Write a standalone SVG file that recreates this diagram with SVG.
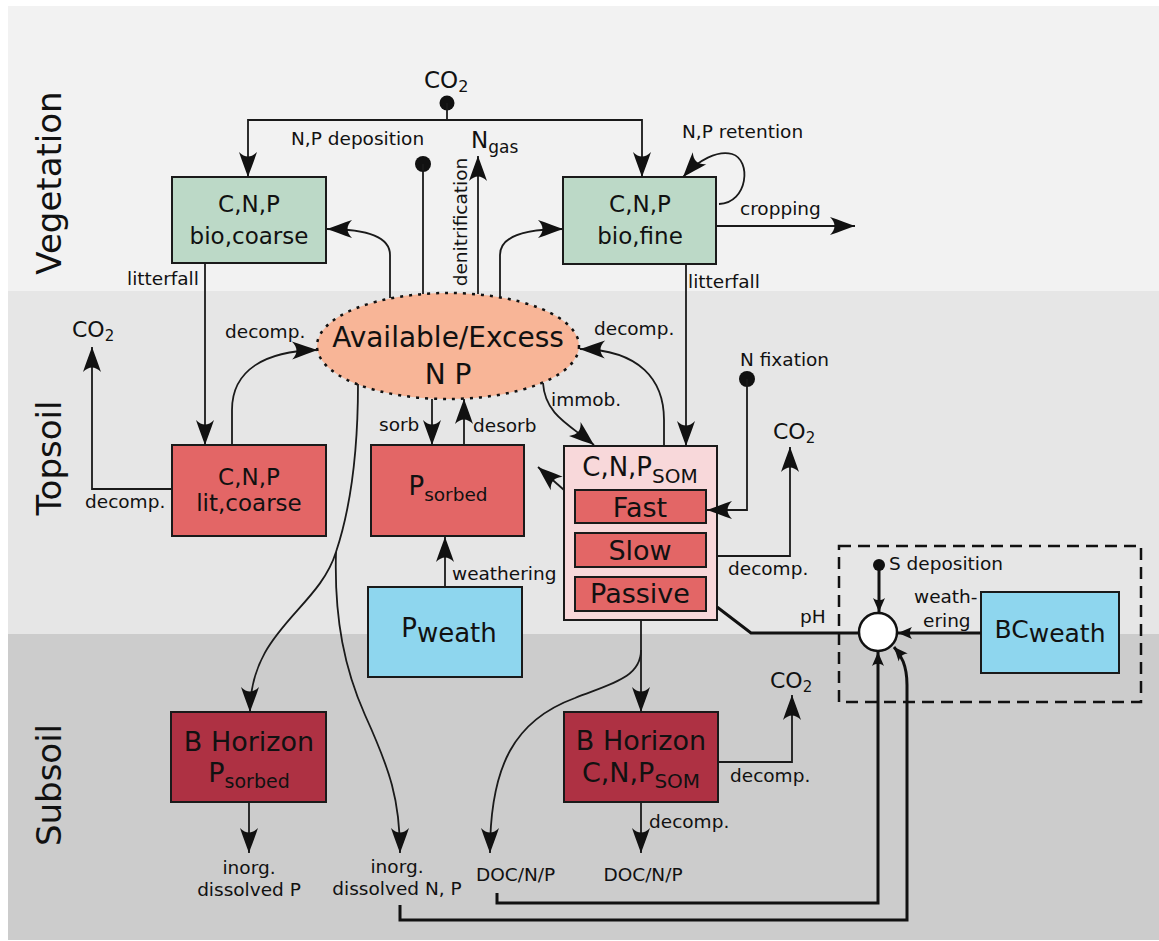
<svg xmlns="http://www.w3.org/2000/svg" width="1159" height="941" viewBox="0 0 1159 941">
<defs>
<style>
text{font-family:"DejaVu Sans","Liberation Sans",sans-serif;fill:#111111}
.lbl{font-size:18.5px}
.big{font-size:27px}
.med{font-size:23px}
.band{font-size:34px}
.box{stroke:#1a1a1a;stroke-width:2}
.c{fill:none;stroke:#1a1a1a;stroke-width:1.8}
.a{marker-end:url(#ah)}
.t{fill:none;stroke:#111;stroke-width:3}
.as{marker-end:url(#as)}
.dot{fill:#111}
</style>
<marker id="ah" viewBox="-26 -10 27 20" refX="0" refY="0" markerWidth="27" markerHeight="20" markerUnits="userSpaceOnUse" orient="auto">
<path d="M0,0 C-7,-2.5 -16,-6 -25,-9 C-19,-3 -19,3 -25,9 C-16,6 -7,2.5 0,0 Z" fill="#111"/>
</marker>
<marker id="as" viewBox="-15 -7 16 14" refX="0" refY="0" markerWidth="16" markerHeight="14" markerUnits="userSpaceOnUse" orient="auto">
<path d="M0,0 L-14,-6 C-11,-2 -11,2 -14,6 Z" fill="#111"/>
</marker>
</defs>

<g id="bands">
<rect x="0" y="0" width="1159" height="941" fill="#ffffff"/>
<rect x="8" y="6" width="1151" height="285" fill="#f2f2f2"/>
<rect x="8" y="291" width="1151" height="343" fill="#e6e6e6"/>
<rect x="8" y="634" width="1151" height="306" fill="#cccccc"/>
<text class="band" text-anchor="middle" transform="translate(61,183) rotate(-90)">Vegetation</text>
<text class="band" text-anchor="middle" transform="translate(61,458) rotate(-90)">Topsoil</text>
<text class="band" text-anchor="middle" transform="translate(61,785) rotate(-90)">Subsoil</text>
</g>

<g id="bio_coarse">
<rect class="box" x="172" y="177" width="154" height="86" fill="#bcd9c7"/>
<text class="med" x="249" y="212" text-anchor="middle">C,N,P</text>
<text class="med" x="249" y="244" text-anchor="middle">bio,coarse</text>
</g>
<g id="bio_fine">
<rect class="box" x="563" y="177" width="153" height="87" fill="#bcd9c7"/>
<text class="med" x="640" y="212" text-anchor="middle">C,N,P</text>
<text class="med" x="640" y="244" text-anchor="middle">bio,fine</text>
</g>
<g id="available">
<ellipse cx="448" cy="346" rx="131" ry="53" fill="#f8b597" stroke="#111" stroke-width="2.5" stroke-dasharray="3 6"/>
<text x="448" y="347" text-anchor="middle" font-size="28">Available/Excess</text>
<text x="448" y="384" text-anchor="middle" font-size="28">N P</text>
</g>
<g id="lit_coarse">
<rect class="box" x="172" y="445" width="154" height="91" fill="#e36666"/>
<text class="med" x="249" y="485" text-anchor="middle">C,N,P</text>
<text class="med" x="249" y="511" text-anchor="middle">lit,coarse</text>
</g>
<g id="p_sorbed">
<rect class="box" x="371" y="445" width="153" height="91" fill="#e36666"/>
<text x="448" y="495" text-anchor="middle" font-size="26">P<tspan font-size="18.5" dy="6">sorbed</tspan></text>
</g>
<g id="p_weath">
<rect class="box" x="368" y="587" width="154" height="90" fill="#8ed6ee"/>
<text x="449" y="637" text-anchor="middle" font-size="26">P<tspan dy="5">weath</tspan></text>
</g>
<g id="som">
<rect class="box" x="564" y="446" width="153" height="174" fill="#f8d8da"/>
<text x="640" y="476" text-anchor="middle" font-size="26">C,N,P<tspan font-size="20" dy="7">SOM</tspan></text>
<rect class="box" x="575" y="490" width="131" height="33" fill="#e36666"/>
<text class="big" x="640" y="517" text-anchor="middle">Fast</text>
<rect class="box" x="575" y="533" width="131" height="34" fill="#e36666"/>
<text class="big" x="640" y="560" text-anchor="middle">Slow</text>
<rect class="box" x="575" y="577" width="131" height="34" fill="#e36666"/>
<text class="big" x="640" y="603" text-anchor="middle">Passive</text>
</g>
<g id="acid_box">
<rect x="839" y="546" width="302" height="156" fill="none" stroke="#111" stroke-width="2.5" stroke-dasharray="12 7"/>
</g>
<g id="bc_weath">
<rect class="box" x="981" y="592" width="138" height="81" fill="#8ed6ee"/>
<text x="1050" y="638" text-anchor="middle" font-size="25">BC<tspan dy="4">weath</tspan></text>
</g>
<g id="bh_p">
<rect class="box" x="171" y="712" width="155" height="90" fill="#ae3143"/>
<text class="big" x="249" y="751" text-anchor="middle">B Horizon</text>
<text x="249" y="782" text-anchor="middle" font-size="27">P<tspan font-size="19" dy="6">sorbed</tspan></text>
</g>
<g id="bh_som">
<rect class="box" x="564" y="712" width="154" height="90" fill="#ae3143"/>
<text class="big" x="641" y="750" text-anchor="middle">B Horizon</text>
<text x="641" y="782" text-anchor="middle" font-size="27">C,N,P<tspan font-size="20" dy="6">SOM</tspan></text>
</g>

<g id="connectors">
<circle class="dot" cx="447" cy="103" r="7.5"/>
<path class="c" d="M447,103 V120"/>
<path class="c a" d="M447,120 H248 V177"/>
<path class="c a" d="M447,120 H642 V177"/>
<circle class="dot" cx="423" cy="164" r="8"/>
<path class="c" d="M423,164 V294"/>
<path class="c a" d="M478,294 V156"/>
<path class="c a" d="M390,298 L390,255 C390,236 365,229 327,229"/>
<path class="c a" d="M500,297 L500,255 C500,236 525,229 563,229"/>
<path class="c a" d="M719,204 C748,203 752,160 732,154 C718,150 698,160 683,177"/>
<path class="c a" d="M716,226 H855"/>
<path class="c a" d="M205,263 V445"/>
<path class="c a" d="M686,264 V446"/>
<path class="c a" d="M232,445 L232,410 C232,370 265,351 317,350"/>
<path class="c a" d="M172,489 H92 V347"/>
<path class="c a" d="M432,399 V445"/>
<path class="c a" d="M464,445 V399"/>
<path class="c a" d="M543,383 C545,415 570,425 594,445"/>
<path class="c a" d="M664,446 L664,420 C664,380 640,350 580,349"/>
<circle class="dot" cx="747" cy="379" r="8"/>
<path class="c a" d="M747,379 V510 H707"/>
<path class="c a" d="M717,556 H790 V447"/>
<path class="c a" d="M564,490 L538,467"/>
<path class="c a" d="M445,587 V537"/>
<path class="c a" d="M358,384 C358,450 350,510 336,552 C318,610 250,630 250,712"/>
<path class="c a" d="M336,552 C334,620 345,670 365,715 C390,770 400,800 400,853"/>
<path class="c a" d="M641,620 V712"/>
<path class="c a" d="M641,650 C641,678 610,684 575,698 C515,720 490,765 490,853"/>
<path class="c a" d="M249,802 V853"/>
<path class="c a" d="M641,802 V853"/>
<path class="c a" d="M718,762 H792 V695"/>
<path class="t" d="M717,607 L751,633 H859"/>
<circle class="dot" cx="879" cy="565" r="6"/>
<path class="t as" d="M879,565 V612"/>
<path class="t as" d="M981,633 H898"/>
<path class="t as" d="M497,893 V903 H878 V652"/>
<path class="t as" d="M400,905 V920 H907 V685 C907,665 901,655 894,647"/>
<circle cx="878" cy="632" r="19" fill="#ffffff" stroke="#111" stroke-width="2.5"/>
</g>

<g id="labels">
<text x="424" y="88" font-size="23">CO<tspan font-size="16" dy="4">2</tspan></text>
<text class="lbl" x="291" y="145">N,P deposition</text>
<text x="471" y="148" font-size="23">N<tspan font-size="17" dy="5">gas</tspan></text>
<text class="lbl" text-anchor="middle" transform="translate(467,222) rotate(-90)">denitrification</text>
<text class="lbl" x="682" y="138">N,P retention</text>
<text class="lbl" x="740" y="215">cropping</text>
<text class="lbl" x="127" y="285">litterfall</text>
<text class="lbl" x="688" y="288">litterfall</text>
<text class="lbl" x="225" y="338">decomp.</text>
<text x="72" y="337" font-size="22">CO<tspan font-size="15" dy="4">2</tspan></text>
<text class="lbl" x="85" y="508">decomp.</text>
<text class="lbl" x="379" y="431">sorb</text>
<text class="lbl" x="473" y="432">desorb</text>
<text class="lbl" x="452" y="580">weathering</text>
<text class="lbl" x="551" y="406">immob.</text>
<text class="lbl" x="594" y="335">decomp.</text>
<text class="lbl" x="740" y="366">N fixation</text>
<text x="773" y="439" font-size="22">CO<tspan font-size="15" dy="4">2</tspan></text>
<text class="lbl" x="728" y="575">decomp.</text>
<text class="lbl" x="889" y="570">S deposition</text>
<text class="lbl" x="914" y="603">weath-</text>
<text class="lbl" x="923" y="627">ering</text>
<text class="lbl" x="800" y="623">pH</text>
<text class="lbl" x="249" y="874" text-anchor="middle">inorg.</text>
<text class="lbl" x="249" y="896" text-anchor="middle">dissolved P</text>
<text class="lbl" x="397" y="873" text-anchor="middle">inorg.</text>
<text class="lbl" x="397" y="895" text-anchor="middle">dissolved N, P</text>
<text class="lbl" x="476" y="881">DOC/N/P</text>
<text class="lbl" x="643" y="881" text-anchor="middle">DOC/N/P</text>
<text class="lbl" x="649" y="828">decomp.</text>
<text x="770" y="688" font-size="22">CO<tspan font-size="15" dy="4">2</tspan></text>
<text class="lbl" x="730" y="782">decomp.</text>
</g>
</svg>
